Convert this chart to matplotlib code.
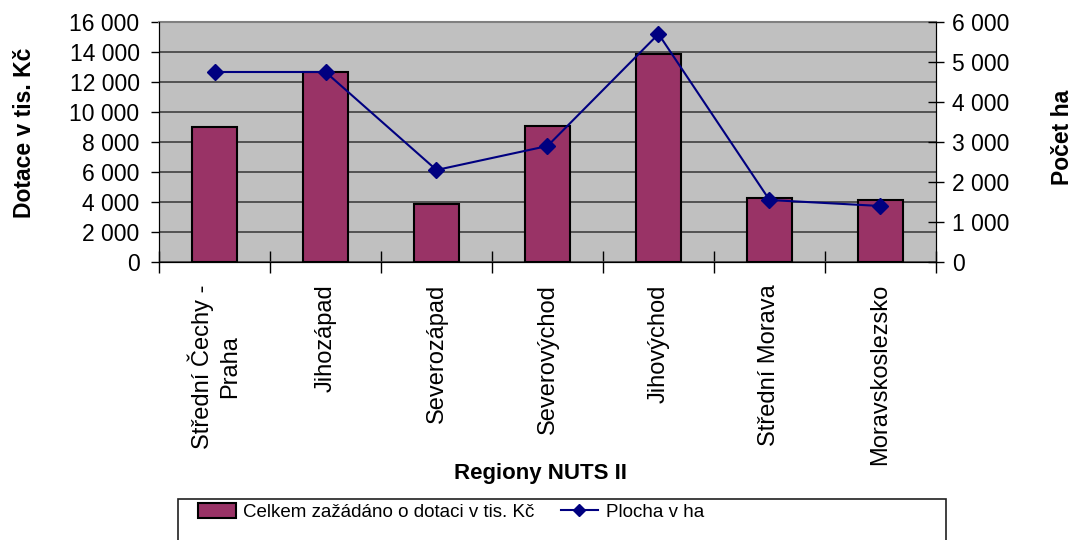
import matplotlib
matplotlib.use("Agg")
import matplotlib.pyplot as plt
import numpy as np
from matplotlib.patches import Patch, Rectangle
from matplotlib.lines import Line2D

categories = ["Střední Čechy -\nPraha", "Jihozápad", "Severozápad", "Severovýchod",
              "Jihovýchod", "Střední Morava", "Moravskoslezsko"]
dotace = [9000, 12700, 3900, 9100, 13900, 4300, 4150]
plocha = [4750, 4750, 2300, 2900, 5700, 1550, 1400]
left_ticks = [0, 2000, 4000, 6000, 8000, 10000, 12000, 14000, 16000]
right_ticks = [0, 1000, 2000, 3000, 4000, 5000, 6000]

def fmt(v):
    return f"{v:,}".replace(",", " ")

plt.rcParams['font.family'] = ['Liberation Sans', 'DejaVu Sans']

W, H = 1076, 540
fig = plt.figure(figsize=(W/100, H/100), dpi=100)
ax = fig.add_axes([159/W, 1-262/H, (936-159)/W, (262-22)/H])
ax.set_facecolor("#C0C0C0")
x = np.arange(len(categories))
ax.bar(x, dotace, width=0.41, color="#993366", edgecolor="black", linewidth=1.5, zorder=3)
ax.set_xlim(-0.5, len(categories)-0.5)
ax.set_ylim(0, 16000)
ax.set_yticks(left_ticks)
ax.set_yticklabels([fmt(v) for v in left_ticks], fontsize=16.5)
ax.yaxis.grid(True, color="#404040", linewidth=1.2, zorder=0)
ax.set_axisbelow(True)
ax.tick_params(axis='y', direction='out', length=6, width=1, pad=8)
ax.set_xticks(x)
ax.set_xticklabels(categories, rotation=90, fontsize=17, va='top', ha='center',
                   multialignment='center', linespacing=1.3)
ax.tick_params(axis='x', which='major', length=0, pad=16)
ax.set_xticks(np.arange(-0.5, len(categories)+0.5, 1), minor=True)
ax.tick_params(axis='x', which='minor', direction='inout', length=16, width=1)
ax.set_ylabel("Dotace v tis. Kč", fontsize=16.5, fontweight='bold')
ax.yaxis.set_label_coords((36-159)/777, 0.54)
ax.set_xlabel("Regiony NUTS II", fontsize=16, fontweight='bold', va='center')
ax.xaxis.set_label_coords((540-159)/777, (262-473)/240)
for s in ['left', 'bottom']:
    ax.spines[s].set_color('black')
ax.spines['top'].set_color('#808080')
ax.spines['top'].set_linewidth(1.5)

ax2 = ax.twinx()
ax2.plot(x, plocha, color="#000080", marker='D', markersize=8, linewidth=1.5, zorder=5)
ax2.set_ylim(0, 6000)
ax2.set_yticks(right_ticks)
ax2.set_yticklabels([fmt(v) for v in right_ticks], fontsize=16.5)
ax2.tick_params(axis='y', direction='inout', length=11, width=1, pad=6)
ax2.set_ylabel("Počet ha", fontsize=16.5, fontweight='bold')
ax2.yaxis.set_label_coords((1051-159)/777, 0.519)
ax2.spines['top'].set_visible(False)
ax2.spines['right'].set_color('black')

# legend frame
fig.patches.append(Rectangle((178/W, -0.02), (946-178)/W, (1-499/H)+0.02, transform=fig.transFigure,
                             fill=False, edgecolor='#202020', linewidth=1.2))
handles = [Patch(facecolor="#993366", edgecolor="black", linewidth=1.5),
           Line2D([0], [0], color="#000080", marker='D', markersize=6, linewidth=1.5)]
labels = ["Celkem zažádáno o dotaci v tis. Kč", "Plocha v ha"]
leg = fig.legend(handles, labels, loc='center left', bbox_to_anchor=(198/W, 1-512/H),
                 ncol=2, frameon=False, handlelength=2.0, handleheight=0.8, handletextpad=0.4,
                 columnspacing=1.4, borderpad=0.0, borderaxespad=0,
                 prop={'size': 13.5})

fig.savefig("out.png", dpi=100)
